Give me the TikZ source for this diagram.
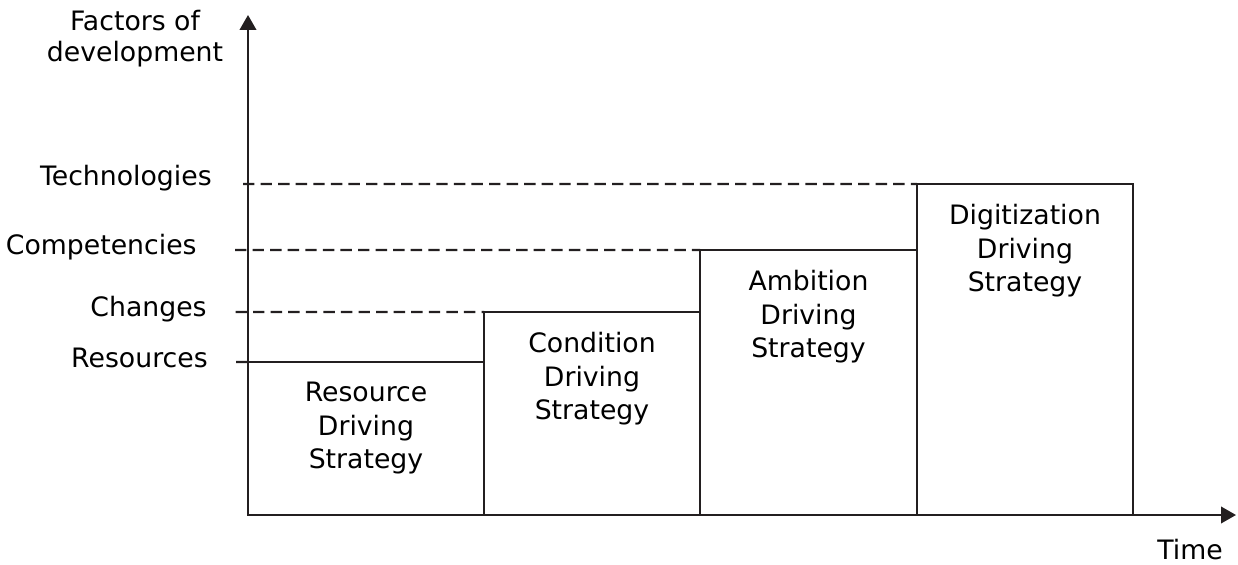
\documentclass[tikz,border=0pt]{standalone}
\usepackage{fontspec}
\setmainfont{DejaVu Sans}
\usetikzlibrary{arrows.meta,positioning}
\definecolor{ln}{RGB}{35,31,32}

\begin{document}
\begin{tikzpicture}[
  bar/.style={draw=ln, line width=1.3pt, anchor=south west, inner sep=0pt, outer sep=0pt},
  lbl/.style={font=\fontsize{15.2}{19}\selectfont, align=center, inner sep=0pt},
  lvl/.style={font=\fontsize{15.2}{17.6}\selectfont, anchor=base east, inner sep=0pt},
  guide/.style={draw=ln, line width=1.3pt, dash pattern=on 6.5pt off 3.5pt},
  axis/.style={draw=ln, line width=1.3pt, -{Triangle[length=0.3cm, width=0.33cm]}}
]
\useasboundingbox (-4.96,-0.98) rectangle (19.80,10.30);
\coordinate (O) at (0,0);

% strategy bars, each one sitting on the time axis right after the previous one
\node[bar, minimum width=4.72cm, minimum height=3.06cm] (res) at (O) {};
\node[bar, minimum width=4.32cm, minimum height=4.06cm] (cond) at (res.south east) {};
\node[bar, minimum width=4.34cm, minimum height=5.30cm] (amb) at (cond.south east) {};
\node[bar, minimum width=4.32cm, minimum height=6.62cm] (dig) at (amb.south east) {};

\node[lbl, below=0.40cm of res.north] (resT) {Resource\\ Driving\\ Strategy};
\node[lbl, below=0.40cm of cond.north] (condT) {Condition\\ Driving\\ Strategy};
\node[lbl, below=0.40cm of amb.north] (ambT) {Ambition\\ Driving\\ Strategy};
\node[lbl, below=0.40cm of dig.north] (digT) {Digitization\\ Driving\\ Strategy};

% levels on the vertical axis
\node[lvl] (tech) at (-0.72,6.58) {Technologies};
\node[lvl] (comp) at (-1.02,5.20) {Competencies};
\node[lvl] (chg) at (-0.82,3.96) {Changes};
\node[lvl] (rsc) at (-0.80,2.94) {Resources};
\coordinate (techS) at (-0.10,6.62);
\coordinate (compS) at (-0.26,5.30);
\coordinate (chgS) at (-0.25,4.06);
\coordinate (rscS) at (-0.24,3.06);
\draw[guide] (techS) -- (dig.north west);
\draw[guide] (compS) -- (amb.north west);
\draw[guide] (chgS) -- (cond.north west);
\draw[draw=ln, line width=1.3pt] (rscS) -- (res.north west);

% axes
\coordinate (yEnd) at (0,10.0);
\coordinate (xEnd) at (19.76,0);
\draw[axis] (O) -- (yEnd);
\draw[axis] (O) -- (xEnd);
\node[lvl, anchor=center, align=center] (ylab) at (-2.26,9.52) {Factors of\\ development};
\node[lvl, anchor=center] (xlab) at (18.84,-0.70) {Time};
\end{tikzpicture}
\end{document}
